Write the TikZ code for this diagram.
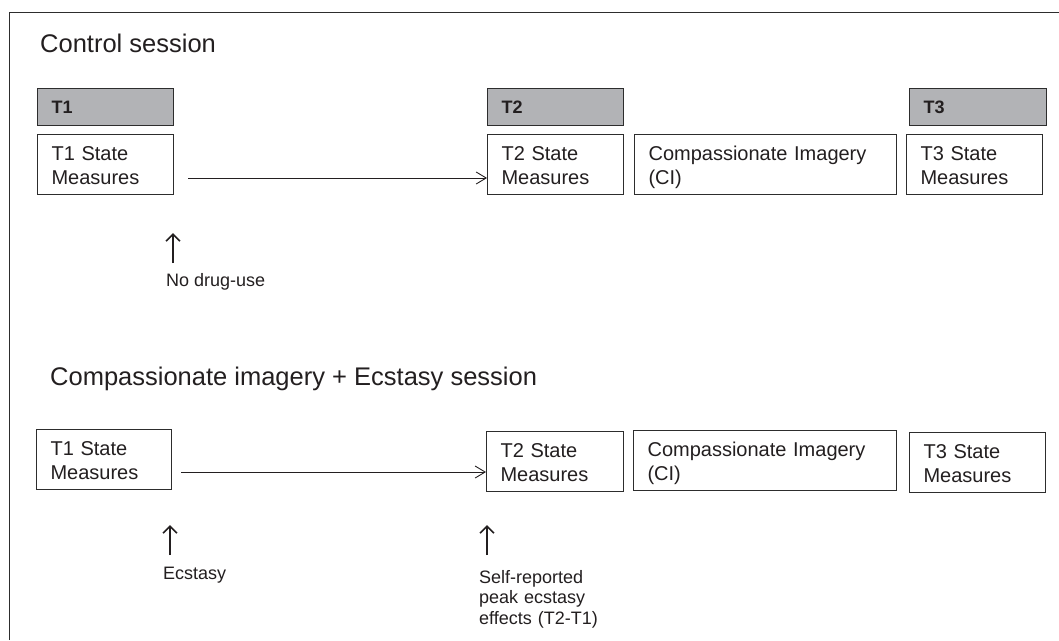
\documentclass[tikz,border=0pt]{standalone}
\usepackage{fontspec}
\setmainfont{Liberation Sans}
\usetikzlibrary{arrows.meta}
\definecolor{ink}{RGB}{35,31,32}
\definecolor{edge}{RGB}{45,45,45}
\definecolor{greyfill}{RGB}{178,179,182}
\newcommand{\topst}{\rule{0pt}{21pt}}
\newcommand{\botst}{\rule[-5pt]{0pt}{5pt}}
\tikzset{
  every node/.style={text=ink},
  boxbase/.style={draw=edge, line width=1.1pt, anchor=north west, inner xsep=14pt, inner ysep=0pt,
    align=left, font=\fontsize{20}{24}\selectfont},
  statebox/.style={boxbase, minimum height=60pt},
  greybox/.style={draw=edge, line width=1.1pt, fill=greyfill, anchor=north west, inner xsep=14pt, inner ysep=0pt,
    align=left, minimum height=37pt, font=\fontsize{18}{22}\selectfont\bfseries},
  title/.style={anchor=base west, inner sep=0pt, font=\fontsize{25.5}{30}\selectfont},
  note/.style={anchor=base west, inner sep=0pt, align=left, font=\fontsize{18}{20.5}\selectfont},
  flow/.style={draw=ink, line width=0.9pt, -{Straight Barb[length=10pt,width=12pt,line width=0.9pt]}},
  uparrow/.style={draw=ink, line width=1.8pt, -{Straight Barb[length=7pt,width=14pt,line width=1.6pt]}},
  frame/.style={draw=edge, line width=1.2pt},
}
\begin{document}
\begin{tikzpicture}[x=1pt,y=-1pt]
\useasboundingbox (0,0) rectangle (1059,640);
\fill[white] (0,0) rectangle (1059,640);
% frame
\coordinate (fbl) at (9.5,640);
\coordinate (ftl) at (9.5,12.3);
\coordinate (ftr) at (1059,12.3);
\draw[frame] (fbl) -- (ftl) -- (ftr);

% control session
\node[title] (t1title) at (40,52) {Control session};
\node[greybox, text width=108pt] (g1) at (37,88) {T1};
\node[greybox, text width=108pt] (g2) at (487,88) {T2};
\node[greybox, text width=109pt] (g3) at (909,88) {T3};
\node[statebox, text width=108pt] (b1) at (37,134) {\topst T1 State\\Measures\botst};
\node[statebox, text width=108pt] (b2) at (487,134) {\topst T2 State\\Measures\botst};
\node[statebox, text width=234pt] (bci) at (634,134) {\topst Compassionate Imagery\\(CI)\botst};
\node[statebox, text width=108pt] (b3) at (906,134) {\topst T3 State\\Measures\botst};
\coordinate (a1s) at (188,178);
\draw[flow] (a1s) -- (a1s -| b2.west);
\coordinate (u1a) at (173,263);
\coordinate (u1b) at (173,233);
\draw[uparrow] (u1a) -- (u1b);
\node[note] (nodrug) at (166,286) {No drug-use};

% compassionate imagery + ecstasy session
\node[title] (t2title) at (50,385) {Compassionate imagery + Ecstasy session};
\node[statebox, text width=107pt] (c1) at (36,429) {\topst T1 State\\Measures\botst};
\node[statebox, text width=109pt] (c2) at (486,431) {\topst T2 State\\Measures\botst};
\node[statebox, text width=235pt] (cci) at (633,430) {\topst Compassionate Imagery\\(CI)\botst};
\node[statebox, text width=108pt] (c3) at (909,432) {\topst T3 State\\Measures\botst};
\coordinate (a2s) at (181,472);
\draw[flow] (a2s) -- (a2s -| c2.west);
\coordinate (u2a) at (170,555);
\coordinate (u2b) at (170,525);
\draw[uparrow] (u2a) -- (u2b);
\node[note] (ecst) at (163,579) {Ecstasy};
\coordinate (u3a) at (487,555);
\coordinate (u3b) at (487,525);
\draw[uparrow] (u3a) -- (u3b);
\node[note, text width=150pt] (selfrep) at (479,583) {Self-reported\\peak ecstasy\\effects (T2-T1)};
\end{tikzpicture}
\end{document}
